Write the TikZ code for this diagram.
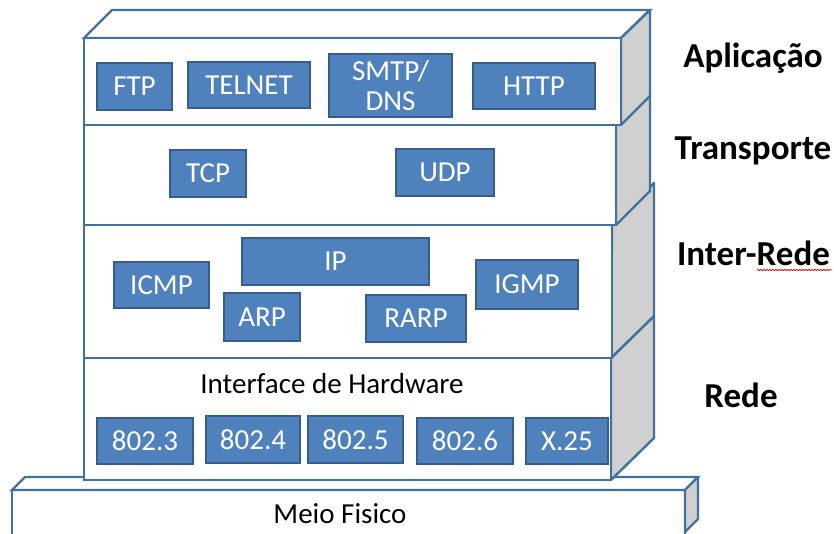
\documentclass[tikz,border=0pt]{standalone}
\usepackage{fontspec}
\setmainfont{Carlito}
\usetikzlibrary{decorations.pathmorphing}
\definecolor{edge}{HTML}{41719C}
\definecolor{boxfill}{HTML}{4F81BD}
\definecolor{boxline}{HTML}{385D8A}
\definecolor{sidegray}{HTML}{D0D0D0}
\begin{document}
\begin{tikzpicture}[x=1pt,y=-1pt,
  layer/.style={draw=edge, line width=2.4pt, fill=white, line join=miter},
  side/.style={draw=edge, line width=2.4pt, fill=sidegray, line join=round},
  pbox/.style={draw=boxline, line width=1.8pt, fill=boxfill, text=white,
    font=\fontsize{29}{30}\selectfont, inner sep=0pt, align=center},
  lbl/.style={font=\bfseries\fontsize{35}{38}\selectfont, anchor=base, inner sep=0pt},
  plaintext/.style={font=\fontsize{29}{31}\selectfont, anchor=base, inner sep=0pt}]
\useasboundingbox (0,0) rectangle (834,533);
\clip (0,0) rectangle (834,533);
% base: Meio Fisico
\draw[layer] (12,545) -- (12,490) -- (685,490) -- (685,545);
\draw[layer] (12,490) -- (25,477) -- (698,477) -- (685,490) -- cycle;
\draw[side] (685,490) -- (698,477) -- (698,519) -- (685,532) -- cycle;
% Rede
\draw[side] (611,358) -- (654,316) -- (654,438) -- (611,480) -- cycle;
\draw[layer] (84,358) rectangle (611,480);
% Inter-Rede
\draw[side] (612,225) -- (654,183) -- (654,316) -- (611,358) -- cycle;
\draw[layer] (84,225) rectangle (612,358);
% Transporte
\draw[side] (616,125) -- (650,96) -- (650,191) -- (616,225) -- cycle;
\draw[layer] (84,125) rectangle (616,225);
% Aplicacao
\draw[layer] (84,38) -- (112,10) -- (650,10) -- (621,38) -- cycle;
\draw[side] (621,38) -- (650,10) -- (650,96) -- (621,125) -- cycle;
\draw[layer] (84,38) rectangle (621,125);
% protocol boxes
\node[pbox, minimum width=75, minimum height=47] (ftp) at (134.5,86.5) {FTP};
\node[pbox, minimum width=122, minimum height=46] (telnet) at (249,85) {TELNET};
\node[pbox, minimum width=123, minimum height=63] (smtp) at (390.5,85.5) {SMTP/\\DNS};
\node[pbox, minimum width=122, minimum height=46] (http) at (534,86) {HTTP};
\node[pbox, minimum width=76, minimum height=47] (tcp) at (208,173.5) {TCP};
\node[pbox, minimum width=98, minimum height=47] (udp) at (445,172.5) {UDP};
\node[pbox, minimum width=95, minimum height=46] (icmp) at (161.5,285) {ICMP};
\node[pbox, minimum width=187, minimum height=47] (ip) at (335.5,261.5) {IP};
\node[pbox, minimum width=76, minimum height=48] (arp) at (262,317) {ARP};
\node[pbox, minimum width=100, minimum height=47] (rarp) at (416,318.5) {RARP};
\node[pbox, minimum width=102, minimum height=49] (igmp) at (527,284.5) {IGMP};
\node[pbox, minimum width=96, minimum height=46] (e3) at (145,441) {802.3};
\node[pbox, minimum width=94, minimum height=47] (e4) at (253,439.5) {802.4};
\node[pbox, minimum width=95, minimum height=47] (e5) at (355.5,439.5) {802.5};
\node[pbox, minimum width=96, minimum height=46] (e6) at (465,441) {802.6};
\node[pbox, minimum width=82, minimum height=46] (x25) at (567,441) {X.25};
% texts
\node[plaintext] (ihw) at (332,393) {Interface de Hardware};
\node[plaintext] (meio) at (340,523) {Meio Fisico};
\node[lbl] (apl) at (753,67) {Aplicação};
\node[lbl] (trans) at (753,159) {Transporte};
\node[lbl] (inter) at (753.5,265) {Inter-Rede};
\node[lbl] (rede) at (741,407) {Rede};
\draw[red!80!black, line width=0.7pt, decorate,
  decoration={snake, amplitude=0.7pt, segment length=3pt}]
  (757,270) -- (832,270);
\end{tikzpicture}
\end{document}
